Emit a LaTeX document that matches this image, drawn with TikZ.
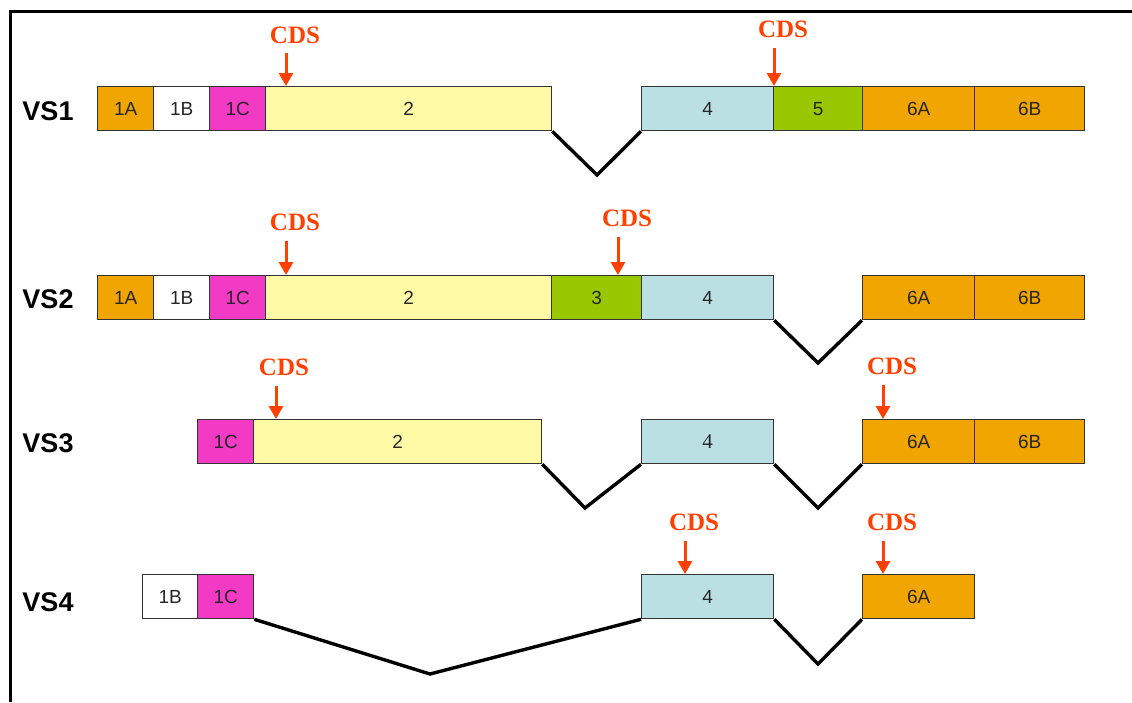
\documentclass[tikz,border=0pt]{standalone}
\usepackage{fontspec}
\setmainfont{Liberation Sans}
\newfontfamily\serifcds{Liberation Serif}
\usetikzlibrary{arrows.meta}
\definecolor{orangeX}{RGB}{240,165,0}
\definecolor{magX}{RGB}{242,58,196}
\definecolor{yelX}{RGB}{255,250,165}
\definecolor{blueX}{RGB}{186,224,227}
\definecolor{greenX}{RGB}{153,200,0}
\definecolor{redX}{RGB}{255,64,0}
\newcommand\exonbox[5]{\node[exon,fill=#2,minimum width=#3pt] (#1) at (#4) {#5};}
\begin{document}
\begin{tikzpicture}[x=1pt,y=-1pt,
 exon/.style={draw=black!80, line width=1.3pt, inner sep=0pt, minimum height=44pt, anchor=north west, font=\fontsize{19}{19}\selectfont, text=black!85},
 intron/.style={line width=3.4pt, black, line join=miter},
 cds/.style={font=\serifcds\bfseries\fontsize{25}{25}\selectfont, text=redX, inner sep=0pt, anchor=base},
 cdsarrow/.style={redX, line width=3pt, -{Triangle[width=14pt,length=13pt]}},
 vs/.style={font=\bfseries\fontsize{27}{27}\selectfont, anchor=base, inner sep=0pt},
 frame/.style={line width=3pt, black}
]
\useasboundingbox (0,0) rectangle (1132,702);
\draw[frame] (10.5,702) -- (10.5,11) -- (1132,11);

% VS1
\node[vs] (vs1) at (48,120) {VS1};
\exonbox{a1A}{orangeX}{56}{97,86}{1A}
\exonbox{a1B}{white}{56}{153,86}{1B}
\exonbox{a1C}{magX}{56}{209,86}{1C}
\exonbox{a2}{yelX}{286}{265,86}{2}
\exonbox{a4}{blueX}{132}{641,86}{4}
\exonbox{a5}{greenX}{89}{773,86}{5}
\exonbox{a6A}{orangeX}{112}{862,86}{6A}
\exonbox{a6B}{orangeX}{110}{974,86}{6B}
\coordinate (av1) at (597,175);
\draw[intron] (a2.south east) -- (av1) -- (a4.south west);
\node[cds] (cdsa1) at (295,43) {CDS};
\coordinate (ta1) at (286,86);
\draw[cdsarrow] ([yshift=-10pt]cdsa1.south -| ta1) -- (ta1);
\node[cds] (cdsa2) at (783,37) {CDS};
\coordinate (ta2) at (774,86);
\draw[cdsarrow] ([yshift=-11pt]cdsa2.south -| ta2) -- (ta2);

% VS2
\node[vs] (vs2) at (48,308) {VS2};
\exonbox{b1A}{orangeX}{56}{97,275}{1A}
\exonbox{b1B}{white}{56}{153,275}{1B}
\exonbox{b1C}{magX}{56}{209,275}{1C}
\exonbox{b2}{yelX}{286}{265,275}{2}
\exonbox{b3}{greenX}{90}{551,275}{3}
\exonbox{b4}{blueX}{132}{641,275}{4}
\exonbox{b6A}{orangeX}{112}{862,275}{6A}
\exonbox{b6B}{orangeX}{110}{974,275}{6B}
\coordinate (bv1) at (818,363);
\draw[intron] (b4.south east) -- (bv1) -- (b6A.south west);
\node[cds] (cdsb1) at (295,230) {CDS};
\coordinate (tb1) at (286,275);
\draw[cdsarrow] ([yshift=-11pt]cdsb1.south -| tb1) -- (tb1);
\node[cds] (cdsb2) at (627,226) {CDS};
\coordinate (tb2) at (618,275);
\draw[cdsarrow] ([yshift=-11pt]cdsb2.south -| tb2) -- (tb2);

% VS3
\node[vs] (vs3) at (48,452) {VS3};
\exonbox{c1C}{magX}{56}{197,419}{1C}
\exonbox{c2}{yelX}{288}{253,419}{2}
\exonbox{c4}{blueX}{132}{641,419}{\serifcds\fontsize{21}{21}\selectfont 4}
\exonbox{c6A}{orangeX}{112}{862,419}{6A}
\exonbox{c6B}{orangeX}{110}{974,419}{6B}
\coordinate (cv1) at (585,508);
\coordinate (cv2) at (818,508);
\draw[intron] (c2.south east) -- (cv1) -- (c4.south west);
\draw[intron] (c4.south east) -- (cv2) -- (c6A.south west);
\node[cds] (cdsc1) at (284,375) {CDS};
\coordinate (tc1) at (276,419);
\draw[cdsarrow] ([yshift=-11pt]cdsc1.south -| tc1) -- (tc1);
\node[cds] (cdsc2) at (892,374) {CDS};
\coordinate (tc2) at (883,419);
\draw[cdsarrow] ([yshift=-11pt]cdsc2.south -| tc2) -- (tc2);

% VS4
\node[vs] (vs4) at (48,611) {VS4};
\exonbox{d1B}{white}{55}{142,574}{1B}
\exonbox{d1C}{magX}{56}{197,574}{1C}
\exonbox{d4}{blueX}{132}{641,574}{4}
\exonbox{d6A}{orangeX}{112}{862,574}{6A}
\coordinate (dv1) at (430,674);
\coordinate (dv2) at (818,664);
\draw[intron] (d1C.south east) -- (dv1) -- (d4.south west);
\draw[intron] (d4.south east) -- (dv2) -- (d6A.south west);
\node[cds] (cdsd1) at (694,530) {CDS};
\coordinate (td1) at (685,574);
\draw[cdsarrow] ([yshift=-11pt]cdsd1.south -| td1) -- (td1);
\node[cds] (cdsd2) at (892,530) {CDS};
\coordinate (td2) at (883,574);
\draw[cdsarrow] ([yshift=-11pt]cdsd2.south -| td2) -- (td2);
\end{tikzpicture}
\end{document}
